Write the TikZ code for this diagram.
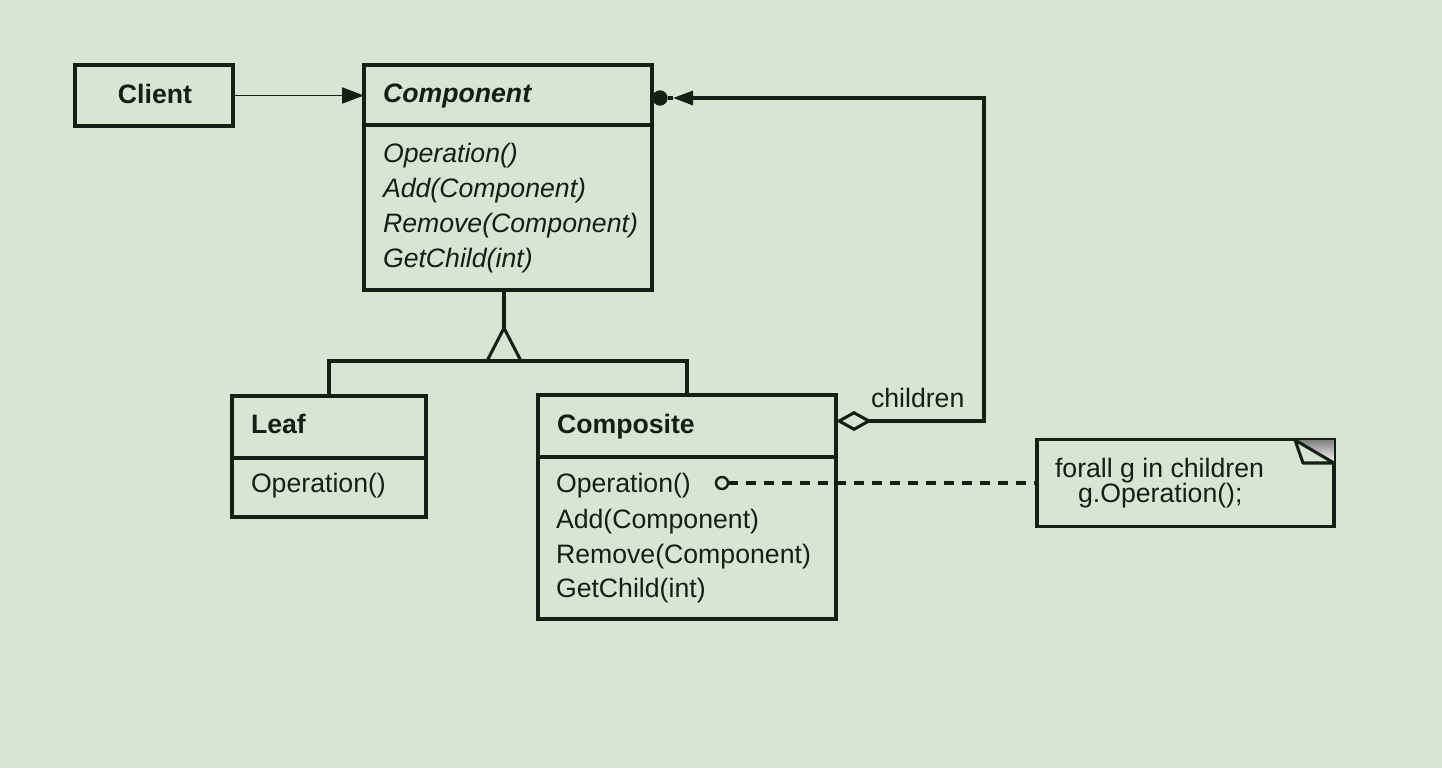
\documentclass[tikz,border=0pt]{standalone}
\usepackage{fontspec}
\setmainfont{Liberation Sans}
\usetikzlibrary{arrows.meta,shapes.geometric}
\definecolor{paper}{HTML}{D8E5D3}
\definecolor{ink}{HTML}{142014}
\definecolor{shade}{HTML}{858E82}
\begin{document}
\begin{tikzpicture}[x=0.75pt,y=-0.75pt,
  every node/.style={inner sep=0pt, outer sep=0pt},
  classbox/.style={draw=ink, line width=2.3pt, rectangle},
  divider/.style={draw=ink, line width=2.3pt},
  conn/.style={draw=ink, line width=2.3pt},
  thinconn/.style={draw=ink, line width=1.4pt},
  txt/.style={anchor=base west, text=ink, font=\fontsize{20}{24}\selectfont},
  optxt/.style={txt, font=\fontsize{20}{24}\selectfont\itshape}]
% canvas
\fill[paper] (0,0) rectangle (1442,768);
\useasboundingbox (0,0) rectangle (1442,768);

% Client
\node[classbox, minimum width=118.5pt, minimum height=45.75pt] (client) at (154,95.5) {};
\node[txt, anchor=base] (clientname) at (155,103) {\bfseries Client};

% Component (abstract)
\node[classbox, minimum width=216pt, minimum height=168.75pt] (comp) at (508,177.5) {};
\draw[divider] (364,125) -- (652,125);
\node[txt] (compname) at (383,102) {\bfseries\itshape Component};
\node[optxt] (cop1) at (383,162) {Operation()};
\node[optxt] (cop2) at (383,197) {Add(Component)};
\node[optxt] (cop3) at (383,232) {Remove(Component)};
\node[optxt] (cop4) at (383,267) {GetChild(int)};

% Leaf
\node[classbox, minimum width=145.5pt, minimum height=90.75pt] (leaf) at (329,456.5) {};
\draw[divider] (232,458) -- (426,458);
\node[txt] (leafname) at (251,433) {\bfseries Leaf};
\node[txt] (lop1) at (251,492) {Operation()};

% Composite
\node[classbox, minimum width=223.5pt, minimum height=168pt] (compo) at (687,507) {};
\draw[divider] (538,457) -- (836,457);
\node[txt] (componame) at (557,433) {\bfseries Composite};
\node[txt] (kop1) at (556,492) {Operation()};
\node[txt] (kop2) at (556,528) {Add(Component)};
\node[txt] (kop3) at (556,563) {Remove(Component)};
\node[txt] (kop4) at (556,597) {GetChild(int)};

% Note with folded corner
\node[classbox, minimum width=222.75pt, minimum height=65.25pt] (note) at (1185.5,483) {};
\fill[shade] (1295,440) -- (1334,440) -- (1334,463) -- cycle;
\draw[conn, fill=paper, line join=round] (1295,440) -- (1303,463) -- (1334,463) -- cycle;
\node[txt] (notel1) at (1055,477) {forall g in children};
\node[txt] (notel2) at (1078,502) {g.Operation();};

% Client -> Component
\draw[thinconn, -{Triangle[length=16.5pt,width=12pt]}] (client.east) -- (client.east -| comp.west);

% Generalization
\coordinate (gen) at (504,328);
\draw[conn] (comp.south -| gen) -- (gen);
\draw[conn, line join=miter] (gen) -- (487,361) -- (521,361) -- cycle;
\draw[conn] (leaf.north) -- (leaf.north |- 0,361) -- (compo.north |- 0,361) -- (compo.north);

% Aggregation: Composite children -> Component
\coordinate (aggr) at (836,421);
\coordinate (cturn) at (984,98);
\coordinate (ctip) at (673,98);
\node[circle, fill=ink, minimum size=11.5pt] (dot) at (660,98) {};
\draw[conn] (ctip) -- (dot);
\draw[conn, {Diamond[open, length=27pt, width=15pt]}-{Triangle[length=15pt,width=10.5pt]}]
  (aggr) -| (cturn) -- (ctip);
\node[txt] (childlbl) at (871,407) {children};

% Implementation note link
\node[circle, draw=ink, line width=1.8pt, minimum size=9pt] (pin) at (722,483) {};
\draw[conn, dash pattern=on 7.5pt off 6pt] (pin.east) -- (pin.east -| note.west);
\end{tikzpicture}
\end{document}
